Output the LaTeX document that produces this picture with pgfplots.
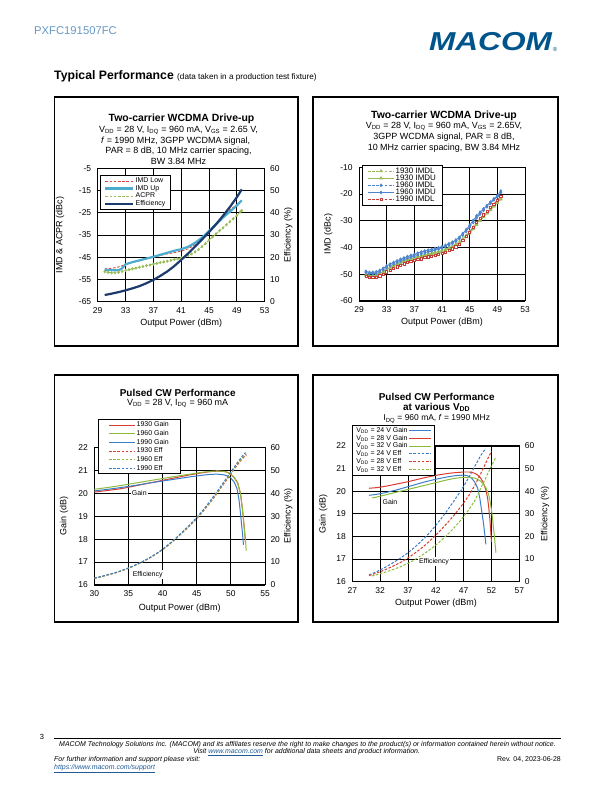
\documentclass[border=0pt]{standalone}
\usepackage{fontspec}
\setmainfont{Liberation Sans}
\usepackage{pgfplots}
\pgfplotsset{compat=1.18}
\definecolor{hdrblue}{RGB}{105,152,196}
\definecolor{macomblue}{RGB}{0,84,140}
\definecolor{cRed}{RGB}{217,68,62}
\definecolor{cCyan}{RGB}{75,172,205}
\definecolor{cGreen}{RGB}{155,187,89}
\definecolor{cNavy}{RGB}{28,58,108}
\definecolor{tG}{RGB}{155,187,89}
\definecolor{tGf}{RGB}{180,205,130}
\definecolor{tB}{RGB}{76,132,205}
\definecolor{tR}{RGB}{200,60,55}
\definecolor{pR}{RGB}{218,60,50}
\definecolor{pG}{RGB}{140,188,60}
\definecolor{pB}{RGB}{60,125,200}
\definecolor{lnk}{RGB}{31,92,153}
\pgfplotsset{
 base/.style={scale only axis, anchor=north west, axis line style={line width=1pt},
   tick style={draw=none}, major tick length=0pt,
   /pgf/number format/assume math mode=true,
   ticklabel style={font=\fontsize{8.5}{9}\selectfont},
   xticklabel style={yshift=-2pt}},
 leftax/.style={base, grid=major, major grid style={black, line width=0.9pt}, yticklabel style={xshift=-3pt}},
 rightax/.style={base, axis y line*=right, axis x line=none, yticklabel style={xshift=2pt}},
 dsh/.style={dash pattern=on 2.6pt off 1.6pt},
}
\newcommand{\sub}[1]{\textsubscript{#1}}
\begin{document}
\begin{tikzpicture}[x=1bp,y=1bp]
\fill[white] (0,0) rectangle (612,792);
\path[use as bounding box] (0,0) rectangle (612,792);
% header
\node[anchor=west, text=hdrblue, font=\fontsize{11.3}{12}\selectfont, inner sep=0] at (34,761) {PXFC191507FC};
\node[text=macomblue, font=\fontsize{26}{27}\selectfont\bfseries\itshape, inner sep=0, xscale=1.22] at (490.5,750) {MACOM};
\node[text=macomblue, font=\fontsize{6}{6}\selectfont, inner sep=0] at (555,743) {\textregistered};
\node[anchor=west, inner sep=0] at (54,716) {\fontsize{12.3}{13}\selectfont\bfseries Typical Performance \fontsize{8.2}{9}\mdseries\selectfont(data taken in a production test fixture)};
% boxes
\draw[line width=1.1pt] (54.5,695) rectangle (298,446);
\draw[line width=1.1pt] (313,695) rectangle (558,446);
\draw[line width=1.1pt] (54.5,417) rectangle (298,170);
\draw[line width=1.1pt] (313,417) rectangle (558,170);

% ================= Chart 1 =================
\begin{axis}[leftax, at={(97.7bp,623.7bp)}, width=167bp, height=133.4bp,
  xmin=29, xmax=53, ymin=-65, ymax=-5, xtick={29,33,...,53}, ytick={-65,-55,...,-5}]
\addplot[cRed, dsh, line width=0.9pt] coordinates {(30,-50.3)(31,-50.0)(32,-49.4)(33,-48.3)(34,-47.3)(35,-46.5)(36,-45.7)(37,-45.0)(38,-44.2)(39,-43.5)(40,-42.9)(41,-42.3)(42,-41.2)(43,-39.4)(44,-36.9)(45,-33.8)(46,-30.1)(47,-26.6)(48,-23.7)(49,-21.4)(49.7,-19.8)};
\addplot[cCyan, line width=2.2pt] coordinates {(30,-50.6)(31,-50.8)(32,-50.9)(32.5,-50.0)(33,-48.2)(34,-47.2)(35,-46.4)(36,-45.6)(37,-44.8)(38,-43.9)(39,-43.0)(40,-42.1)(41,-41.4)(42,-40.3)(43,-38.5)(44,-36.2)(45,-33.2)(46,-30.2)(47,-27.2)(48,-24.5)(49,-21.7)(49.7,-19.4)};
\addplot[cGreen, dsh, line width=0.9pt, mark=diamond*, mark size=1pt, mark options={solid}] coordinates {(30,-51.5)(30.5,-51.8)(31,-52.0)(31.5,-52.0)(32,-51.8)(32.5,-51.4)(33,-50.9)(33.5,-50.6)(34,-50.2)(34.5,-49.9)(35,-49.5)(35.5,-49.2)(36,-48.8)(36.5,-48.5)(37,-48.1)(37.5,-47.8)(38,-47.4)(38.5,-47.1)(39,-46.8)(39.5,-46.4)(40,-46.0)(40.5,-45.7)(41,-45.3)(41.5,-44.8)(42,-44.2)(42.5,-43.5)(43,-42.6)(43.5,-41.5)(44,-40.2)(44.5,-38.8)(45,-37.3)(45.5,-35.9)(46,-34.5)(46.5,-33.1)(47,-31.8)(47.5,-30.4)(48,-29.0)(48.5,-27.6)(49,-26.2)(49.5,-24.6)(49.7,-24.0)};
\end{axis}
\begin{axis}[rightax, at={(97.7bp,623.7bp)}, width=167bp, height=133.4bp,
  xmin=29, xmax=53, ymin=0, ymax=60, ytick={0,10,...,60},
  legend style={at={(0.014,0.95)}, anchor=north west, draw=black, line width=0.6pt, fill=white,
    font=\fontsize{7}{8}\selectfont, inner xsep=4pt, inner ysep=1.5pt, row sep=-1.2pt, nodes={inner sep=1.2pt}},
  legend cell align=left,
  legend image code/.code={\draw[#1] (0bp,0bp) -- (28bp,0bp);}]
\addlegendimage{cRed, dsh, line width=0.9pt}\addlegendentry{IMD Low}
\addlegendimage{cCyan, line width=2.2pt}\addlegendentry{IMD Up}
\addlegendimage{cGreen, dsh, line width=0.9pt}\addlegendentry{ACPR}
\addplot[cNavy, line width=2.2pt] coordinates {(30,3.0)(31,3.6)(32,4.3)(33,5.1)(34,6.0)(35,7.0)(36,8.3)(37,9.8)(38,11.6)(39,13.6)(40,16.0)(41,18.8)(42,21.7)(43,24.8)(44,28.0)(45,31.3)(46,34.8)(47,38.6)(48,42.6)(49,47.0)(49.7,50.5)};
\addlegendentry{Efficiency}
\end{axis}
\node[font=\fontsize{10.5}{11}\selectfont\bfseries] at (181.5,672.7) {Two-carrier WCDMA Drive-up};
\node[font=\fontsize{9}{10}\selectfont] at (178.5,662) {V\sub{DD} = 28 V, I\sub{DQ} = 960 mA, V\sub{GS} = 2.65 V,};
\node[font=\fontsize{9}{10}\selectfont, anchor=west] at (97.5,651.3) {\textit{f} = 1990 MHz, 3GPP WCDMA signal,};
\node[font=\fontsize{9}{10}\selectfont] at (178.5,640.7) {PAR = 8 dB, 10 MHz carrier spacing,};
\node[font=\fontsize{9}{10}\selectfont] at (178.5,630.3) {BW 3.84 MHz};
\node[font=\fontsize{9}{10}\selectfont] at (181.2,469) {Output Power (dBm)};
\node[font=\fontsize{9}{10}\selectfont, rotate=90] at (60,557) {IMD \& ACPR (dBc)};
\node[font=\fontsize{9}{10}\selectfont, rotate=90] at (288.3,557) {Efficiency (\%)};

% ================= Chart 2 =================
\begin{axis}[leftax, at={(359bp,624.7bp)}, width=166bp, height=133.7bp,
  xmin=29, xmax=53, ymin=-60, ymax=-10, xtick={29,33,...,53}, ytick={-60,-50,...,-10},
  legend style={at={(0.02,1.017)}, anchor=north west, draw=black, line width=0.6pt, fill=white,
    font=\fontsize{8}{8.5}\selectfont, inner xsep=5pt, inner ysep=1pt, row sep=-2.3pt, nodes={inner sep=1.2pt}},
  legend cell align=left,
  legend image code/.code={\draw[#1, mark repeat=2, mark phase=2] plot coordinates {(0bp,0bp) (13bp,0bp) (26bp,0bp)};}]
\addplot[tG, dsh, line width=0.8pt, mark=triangle*, mark size=1.4pt, mark options={solid, fill=tGf, draw=tG}] coordinates {(30,-50.5)(30.5,-50.9)(31,-50.9)(31.5,-50.6)(32,-50.2)(32.5,-49.4)(33,-48.6)(33.5,-47.8)(34,-47.1)(34.5,-46.5)(35,-45.9)(35.5,-45.4)(36,-44.9)(36.5,-44.5)(37,-44.1)(37.5,-43.8)(38,-43.5)(38.5,-43.1)(39,-42.8)(39.5,-42.5)(40,-42.2)(40.5,-41.9)(41,-41.5)(41.5,-41.0)(42,-40.5)(42.5,-40.0)(43,-39.3)(43.5,-38.5)(44,-37.4)(44.5,-36.1)(45,-34.7)(45.5,-33.1)(46,-31.5)(46.5,-30.0)(47,-28.6)(47.5,-27.2)(48,-25.9)(48.5,-24.6)(49,-23.4)(49.5,-22.0)};
\addlegendentry{1930 IMDL}
\addplot[tG, line width=0.8pt, mark=triangle*, mark size=1.4pt, mark options={solid, fill=tG, draw=tG}] coordinates {(30,-50.1)(30.5,-50.5)(31,-50.5)(31.5,-50.2)(32,-49.7)(32.5,-49.0)(33,-48.2)(33.5,-47.4)(34,-46.7)(34.5,-46.1)(35,-45.5)(35.5,-45.0)(36,-44.5)(36.5,-44.1)(37,-43.7)(37.5,-43.4)(38,-43.1)(38.5,-42.7)(39,-42.4)(39.5,-42.1)(40,-41.8)(40.5,-41.5)(41,-41.1)(41.5,-40.6)(42,-40.1)(42.5,-39.5)(43,-38.8)(43.5,-38.0)(44,-36.8)(44.5,-35.5)(45,-34.0)(45.5,-32.5)(46,-31.0)(46.5,-29.7)(47,-28.4)(47.5,-27.1)(48,-25.8)(48.5,-24.5)(49,-23.2)(49.5,-21.8)};
\addlegendentry{1930 IMDU}
\addplot[tB, dsh, line width=0.8pt, mark=diamond*, mark size=1.3pt, mark options={solid, fill=tB!70!white, draw=tB}] coordinates {(30,-49.4)(30.5,-49.8)(31,-49.8)(31.5,-49.6)(32,-49.1)(32.5,-48.4)(33,-47.5)(33.5,-46.8)(34,-46.2)(34.5,-45.6)(35,-45.0)(35.5,-44.5)(36,-44.0)(36.5,-43.6)(37,-43.2)(37.5,-42.8)(38,-42.4)(38.5,-42.0)(39,-41.6)(39.5,-41.3)(40,-40.9)(40.5,-40.6)(41,-40.2)(41.5,-39.7)(42,-39.1)(42.5,-38.5)(43,-37.7)(43.5,-36.7)(44,-35.4)(44.5,-33.9)(45,-32.3)(45.5,-30.6)(46,-28.9)(46.5,-27.5)(47,-26.1)(47.5,-24.8)(48,-23.5)(48.5,-22.2)(49,-21.0)(49.5,-19.4)};
\addlegendentry{1960 IMDL}
\addplot[tB, line width=0.8pt, mark=diamond*, mark size=1.3pt, mark options={solid, fill=tB, draw=tB}] coordinates {(30,-48.9)(30.5,-49.3)(31,-49.3)(31.5,-49.1)(32,-48.6)(32.5,-47.8)(33,-46.9)(33.5,-46.2)(34,-45.6)(34.5,-45.0)(35,-44.4)(35.5,-43.9)(36,-43.4)(36.5,-43.0)(37,-42.6)(37.5,-42.1)(38,-41.7)(38.5,-41.3)(39,-41.0)(39.5,-40.7)(40,-40.4)(40.5,-40.1)(41,-39.7)(41.5,-39.2)(42,-38.6)(42.5,-38.0)(43,-37.2)(43.5,-36.2)(44,-34.8)(44.5,-33.3)(45,-31.7)(45.5,-29.9)(46,-28.2)(46.5,-26.8)(47,-25.6)(47.5,-24.3)(48,-23.0)(48.5,-21.8)(49,-20.6)(49.5,-18.9)};
\addlegendentry{1960 IMDU}
\addplot[tR, dsh, line width=0.8pt, mark=square*, mark size=1.1pt, mark options={solid, fill=white, draw=tR, line width=0.6pt}] coordinates {(30,-50.8)(30.5,-51.2)(31,-51.2)(31.5,-51.0)(32,-50.6)(32.5,-49.9)(33,-49.1)(33.5,-48.4)(34,-47.8)(34.5,-47.2)(35,-46.6)(35.5,-46.1)(36,-45.6)(36.5,-45.2)(37,-44.8)(37.5,-44.5)(38,-44.2)(38.5,-43.8)(39,-43.5)(39.5,-43.2)(40,-42.9)(40.5,-42.6)(41,-42.2)(41.5,-41.7)(42,-41.1)(42.5,-40.5)(43,-39.7)(43.5,-38.7)(44,-37.4)(44.5,-35.9)(45,-34.2)(45.5,-32.4)(46,-30.7)(46.5,-29.2)(47,-27.8)(47.5,-26.4)(48,-25.0)(48.5,-23.7)(49,-22.4)(49.5,-20.8)};
\addlegendentry{1990 IMDL}
\end{axis}
\node[font=\fontsize{10.5}{11}\selectfont\bfseries] at (444,676) {Two-carrier WCDMA Drive-up};
\node[font=\fontsize{9}{10}\selectfont] at (444,665.3) {V\sub{DD} = 28 V, I\sub{DQ} = 960 mA, V\sub{GS} = 2.65V,};
\node[font=\fontsize{9}{10}\selectfont] at (444,654.7) {3GPP WCDMA signal, PAR = 8 dB,};
\node[font=\fontsize{9}{10}\selectfont] at (444,644) {10 MHz carrier spacing, BW 3.84 MHz};
\node[font=\fontsize{9}{10}\selectfont] at (442,470.3) {Output Power (dBm)};
\node[font=\fontsize{9}{10}\selectfont, rotate=90] at (328.3,558) {IMD (dBc)};

% ================= Chart 3 =================
\begin{axis}[leftax, at={(94.3bp,344.7bp)}, width=170.7bp, height=137.7bp,
  xmin=30, xmax=55, ymin=16, ymax=22, xtick={30,35,...,55}, ytick={16,17,...,22}]
\addplot[pR, line width=1pt] coordinates {(30,20.05)(32,20.12)(34,20.2)(36,20.32)(38,20.44)(40,20.56)(42,20.68)(44,20.8)(46,20.9)(47,20.94)(48,20.96)(49,20.95)(49.5,20.91)(50,20.82)(50.5,20.68)(51,20.45)(51.4,20.0)(51.7,19.3)(51.9,18.7)(52.05,18.2)(52.15,17.85)};
\addplot[pG, line width=1pt] coordinates {(30,20.17)(32,20.25)(34,20.34)(36,20.44)(38,20.54)(40,20.64)(42,20.74)(44,20.83)(46,20.92)(47,20.95)(48,20.97)(49,20.95)(49.5,20.91)(50,20.82)(50.5,20.67)(51,20.43)(51.4,20.0)(51.7,19.3)(51.95,18.5)(52.15,17.9)(52.25,17.5)};
\addplot[pB, line width=1pt] coordinates {(30,20.1)(32,20.17)(34,20.25)(36,20.34)(38,20.44)(40,20.53)(42,20.62)(44,20.71)(46,20.79)(47,20.82)(48,20.83)(49,20.8)(49.5,20.75)(50,20.66)(50.5,20.48)(50.9,20.2)(51.2,19.7)(51.45,19.0)(51.65,18.4)(51.85,17.75)};
\end{axis}
\begin{axis}[rightax, at={(94.3bp,344.7bp)}, width=170.7bp, height=137.7bp,
  xmin=30, xmax=55, ymin=0, ymax=60, ytick={0,10,...,60},
  legend style={at={(0.023,1.203)}, anchor=north west, draw=black, line width=0.6pt, fill=white,
    font=\fontsize{7}{8}\selectfont, inner xsep=10pt, inner ysep=1pt, row sep=-0.3pt, nodes={inner sep=1.2pt}},
  legend cell align=left,
  legend image code/.code={\draw[#1] (0bp,0bp) -- (26bp,0bp);}]
\addlegendimage{pR, line width=1pt}\addlegendentry{1930 Gain}
\addlegendimage{pG, line width=1pt}\addlegendentry{1960 Gain}
\addlegendimage{pB, line width=1pt}\addlegendentry{1990 Gain}
\addplot[pR, dsh, line width=1pt] coordinates {(30,2.9)(31,3.6)(32,4.4)(33,5.2)(34,6.2)(35,7.3)(36,8.6)(37,10.0)(38,11.6)(39,13.4)(40,15.4)(41,17.7)(42,20.3)(43,23.0)(44,25.9)(45,28.9)(46,32.3)(47,36.0)(48,40.0)(49,44.2)(50,48.4)(50.5,50.5)(51,52.5)(51.5,54.4)(52,56.0)(52.3,56.8)};
\addlegendentry{1930 Eff}
\addplot[pG, dsh, line width=1pt] coordinates {(30,2.9)(31,3.6)(32,4.4)(33,5.2)(34,6.2)(35,7.3)(36,8.6)(37,10.0)(38,11.6)(39,13.4)(40,15.4)(41,17.8)(42,20.4)(43,23.1)(44,26.0)(45,29.1)(46,32.5)(47,36.3)(48,40.3)(49,44.5)(50,48.8)(50.5,50.9)(51,53.0)(51.5,54.9)(52,56.5)(52.25,57.2)};
\addlegendentry{1960 Eff}
\addplot[pB, dsh, line width=1pt] coordinates {(30,3.0)(31,3.7)(32,4.5)(33,5.3)(34,6.3)(35,7.4)(36,8.7)(37,10.1)(38,11.7)(39,13.5)(40,15.6)(41,18.0)(42,20.6)(43,23.4)(44,26.3)(45,29.4)(46,32.9)(47,36.7)(48,40.8)(49,45.0)(50,49.3)(50.5,51.4)(51,53.5)(51.5,55.5)(52,57.3)(52.15,57.7)};
\addlegendentry{1990 Eff}
\end{axis}
\node[font=\fontsize{10}{11}\selectfont\bfseries] at (177.7,399.3) {Pulsed CW Performance};
\node[font=\fontsize{9}{10}\selectfont] at (177.7,388.7) {V\sub{DD} = 28 V, I\sub{DQ} = 960 mA};
\node[font=\fontsize{9}{10}\selectfont] at (179.7,183.7) {Output Power (dBm)};
\node[font=\fontsize{9}{10}\selectfont, rotate=90] at (64,276) {Gain (dB)};
\node[font=\fontsize{9}{10}\selectfont, rotate=90] at (288.3,276) {Efficiency (\%)};
\node[fill=white, inner sep=1pt, font=\fontsize{7}{8}\selectfont] at (139.3,299.3) {Gain};
\node[fill=white, inner sep=1pt, font=\fontsize{7}{8}\selectfont] at (147.7,217.7) {Efficiency};

% ================= Chart 4 =================
\begin{axis}[leftax, at={(352.3bp,346bp)}, width=167bp, height=135.7bp,
  xmin=27, xmax=57, ymin=16, ymax=22, xtick={27,32,...,57}, ytick={16,17,...,22}]
\addplot[pB, line width=1pt] coordinates {(30,19.82)(31,19.85)(32,19.89)(33,19.94)(34,20.0)(35,20.06)(36,20.13)(37,20.2)(38,20.27)(39,20.34)(40,20.41)(41,20.47)(42,20.53)(43,20.58)(44,20.63)(45,20.67)(46,20.7)(47,20.71)(47.5,20.7)(48,20.65)(48.5,20.56)(49,20.4)(49.5,20.15)(49.9,19.7)(50.2,19.2)(50.5,18.7)(50.8,18.1)(51,17.65)};
\addplot[pR, line width=1pt] coordinates {(30,20.13)(31,20.15)(32,20.18)(33,20.22)(34,20.27)(35,20.32)(36,20.37)(37,20.42)(38,20.48)(39,20.54)(40,20.6)(41,20.65)(42,20.7)(43,20.74)(44,20.78)(45,20.81)(46,20.83)(47,20.85)(48,20.85)(48.5,20.83)(49,20.79)(49.5,20.72)(50,20.6)(50.5,20.4)(51,20.05)(51.3,19.7)(51.5,19.3)(51.7,18.8)(51.85,18.3)(52,17.75)};
\addplot[pG, line width=1pt] coordinates {(30.5,19.7)(31,19.72)(32,19.78)(33,19.84)(34,19.9)(35,19.96)(36,20.02)(37,20.08)(38,20.14)(39,20.2)(40,20.26)(41,20.32)(42,20.38)(43,20.44)(44,20.5)(45,20.55)(46,20.59)(47,20.61)(48,20.62)(49,20.58)(49.5,20.53)(50,20.45)(50.5,20.33)(51,20.15)(51.5,19.85)(51.8,19.5)(52.1,19.0)(52.4,18.3)(52.6,17.8)(52.8,17.28)};
\end{axis}
\begin{axis}[rightax, at={(352.3bp,346bp)}, width=167bp, height=135.7bp,
  xmin=27, xmax=57, ymin=0, ymax=60, ytick={0,10,...,60},
  legend style={at={(0,1.155)}, anchor=north west, draw=black, line width=0.6pt, fill=white,
    font=\fontsize{7}{8}\selectfont, inner xsep=2.5pt, inner ysep=1pt, row sep=-1.2pt, nodes={inner sep=1.2pt}},
  legend cell align=left, legend plot pos=right,
  legend image code/.code={\draw[#1] (0bp,0bp) -- (22bp,0bp);}]
\addlegendimage{pB, line width=1pt}\addlegendentry{V\sub{DD} = 24 V Gain}
\addlegendimage{pR, line width=1pt}\addlegendentry{V\sub{DD} = 28 V Gain}
\addlegendimage{pG, line width=1pt}\addlegendentry{V\sub{DD} = 32 V Gain}
\addplot[pB, dsh, line width=1pt] coordinates {(30,3.0)(31,4.0)(32,5.2)(33,6.5)(34,7.9)(35,9.4)(36,11.0)(37,12.8)(38,14.8)(39,17.0)(40,19.4)(41,22.0)(42,24.9)(43,28.0)(44,31.3)(45,34.8)(46,38.4)(47,42.2)(48,46.4)(49,51.0)(49.5,53.2)(50,55.5)(50.5,57.4)(51,58.8)};
\addlegendentry{V\sub{DD} = 24 V Eff}
\addplot[pR, dsh, line width=1pt] coordinates {(30,2.7)(31,3.5)(32,4.4)(33,5.4)(34,6.5)(35,7.7)(36,9.0)(37,10.5)(38,12.2)(39,14.0)(40,16.0)(41,18.2)(42,20.6)(43,23.1)(44,25.8)(45,28.6)(46,31.6)(47,34.8)(48,38.4)(49,42.6)(50,47.4)(50.5,50.0)(51,52.6)(51.5,55.2)(52,57.6)};
\addlegendentry{V\sub{DD} = 28 V Eff}
\addplot[pG, dsh, line width=1pt] coordinates {(30.5,2.5)(31,2.8)(32,3.5)(33,4.3)(34,5.1)(35,6.0)(36,7.0)(37,8.1)(38,9.4)(39,10.9)(40,12.5)(41,14.3)(42,16.2)(43,18.3)(44,20.6)(45,23.1)(46,25.8)(47,28.8)(48,32.1)(49,35.8)(50,41.0)(51,46.0)(52,51.2)(52.5,53.6)(52.8,55.3)};
\addlegendentry{V\sub{DD} = 32 V Eff}
\end{axis}
\node[font=\fontsize{10}{11}\selectfont\bfseries] at (436.7,395.3) {Pulsed CW Performance};
\node[font=\fontsize{10}{11}\selectfont\bfseries] at (436.7,384.7) {at various V\sub{DD}};
\node[font=\fontsize{8.5}{9}\selectfont] at (436.7,373) {I\sub{DQ} = 960 mA, \textit{f} = 1990 MHz};
\node[font=\fontsize{9}{10}\selectfont] at (436,188.7) {Output Power (dBm)};
\node[font=\fontsize{9}{10}\selectfont, rotate=90] at (323.3,278) {Gain (dB)};
\node[font=\fontsize{9}{10}\selectfont, rotate=90] at (545,278) {Efficiency (\%)};
\node[fill=white, inner sep=1pt, font=\fontsize{7}{8}\selectfont] at (390,290.3) {Gain};
\node[fill=white, inner sep=1pt, font=\fontsize{7}{8}\selectfont] at (434,230.3) {Efficiency};

% footer
\node[font=\fontsize{7.5}{8}\selectfont] at (42,55.3) {3};
\draw[line width=0.8pt] (54,53.7) -- (561,53.7);
\node[font=\fontsize{7}{8}\selectfont\itshape] at (307.5,47.7) {MACOM Technology Solutions Inc. (MACOM) and its affiliates reserve the right to make changes to the product(s) or information contained herein without notice.};
\node[font=\fontsize{7}{8}\selectfont\itshape] at (306.7,39.7) {Visit \textcolor{lnk}{\underline{www.macom.com}} for additional data sheets and product information.};
\node[font=\fontsize{7}{8}\selectfont\itshape, anchor=west, inner sep=0] at (54,32.7) {For further information and support please visit:};
\node[font=\fontsize{7}{8}\selectfont, anchor=east, inner sep=0] at (561,32.7) {Rev. 04, 2023-06-28};
\node[font=\fontsize{7}{8}\selectfont\itshape, anchor=west, inner sep=0] at (54,23.7) {\textcolor{lnk}{\underline{https://www.macom.com/support}}};
\end{tikzpicture}
\end{document}
